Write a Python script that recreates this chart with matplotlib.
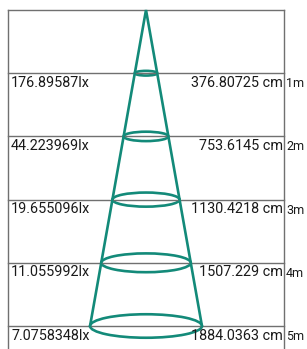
import matplotlib.pyplot as plt
from matplotlib.patches import Ellipse

# datos del cono de luz
distancias = [1, 2, 3, 4, 5]
etiquetas_dist = ['1m', '2m', '3m', '4m', '5m']
lux = ['176.89587lx', '44.223969lx', '19.655096lx', '11.055992lx', '7.0758348lx']
diametros = [376.80725, 753.6145, 1130.4218, 1507.229, 1884.0363]
etiquetas_diam = ['376.80725 cm', '753.6145 cm', '1130.4218 cm', '1507.229 cm', '1884.0363 cm']

# layout en pixeles
W, H = 307, 349
izq, der, arriba = 8, 284, 10
fila = 63.2
centro = 146
escala = 0.0297      # px por cm de diametro
achat = 0.21         # alto / ancho de cada elipse
verde = '#138a79'
gris = '#707070'

plt.rcParams['font.family'] = ['Roboto', 'DejaVu Sans']

fig = plt.figure(figsize=(W / 100, H / 100), dpi=100)
ax = fig.add_axes([0, 0, 1, 1])
ax.set_xlim(0, W)
ax.set_ylim(H, 0)
ax.axis('off')

# marco
ax.plot([izq, izq], [arriba, H], color=gris, lw=1)
ax.plot([der, der], [arriba, H], color=gris, lw=1)
ax.plot([izq, der], [arriba, arriba], color=gris, lw=1)

for d, lx, dm, txt, et in zip(distancias, lux, diametros, etiquetas_diam, etiquetas_dist):
    y = arriba + d * fila
    ax.plot([izq, der], [y, y], color=gris, lw=1)
    ax.text(izq + 3, y + 2.5, lx, fontsize=10.4, va='top', ha='left', color='#1a1a1a')
    ax.text(der - 1, y + 2.5, txt, fontsize=10.4, va='top', ha='right', color='#1a1a1a')
    ax.text(der + 2, y + 4, et, fontsize=9, va='top', ha='left', color='#1a1a1a')
    r = dm * escala
    ax.add_patch(Ellipse((centro, y), 2 * r, 2 * r * achat, fill=False,
                         edgecolor=verde, lw=1.9))

# lados del cono
y_fin = arriba + distancias[-1] * fila
r_fin = diametros[-1] * escala
ax.plot([centro - r_fin, centro, centro + r_fin], [y_fin, arriba, y_fin],
        color=verde, lw=1.9, solid_joinstyle='miter')

fig.savefig('out.png', dpi=100)
